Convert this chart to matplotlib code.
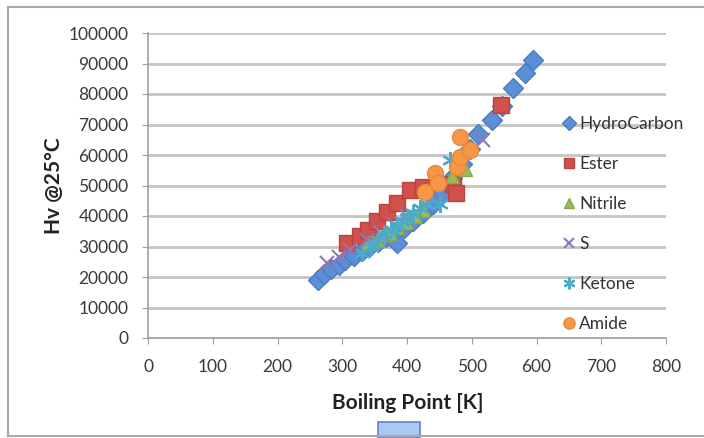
import matplotlib.pyplot as plt
from matplotlib.patches import Rectangle
from matplotlib.lines import Line2D

# 데이터
hc_bp = [263, 272, 282, 295, 305, 318, 330, 342, 355, 368, 385, 395, 410, 425,
         440, 455, 470, 485, 497, 510, 531, 547, 564, 582, 594]
hc_hv = [19000, 21000, 22500, 24000, 25500, 27000, 28500, 30000, 31500, 33000,
         31300, 36000, 38500, 41000, 44000, 48000, 52500, 57000, 62000, 67000,
         71500, 76000, 82000, 87000, 91200]

ester_bp = [307, 327, 340, 354, 369, 384, 405, 425, 471, 476, 545]
ester_hv = [31300, 33300, 35500, 38200, 41400, 44300, 48600, 49600, 50500, 47500, 76400]

nitrile_bp = [340, 354, 368, 374, 385, 398, 412, 425, 470, 490]
nitrile_hv = [31000, 32200, 34000, 34500, 36500, 38000, 40000, 42000, 53000, 55500]

s_bp = [276, 295, 312, 338, 360, 380, 400, 517]
s_hv = [24700, 26500, 29000, 32200, 34500, 37000, 40000, 64900]

ketone_bp = [330, 345, 355, 365, 375, 385, 392, 400, 410, 420, 430, 451, 466]
ketone_hv = [28000, 30000, 32000, 34000, 35500, 37000, 38500, 39500, 41000, 42500,
             44000, 44000, 58400]

amide_bp = [428, 443, 448, 477, 482, 482, 497]
amide_hv = [47900, 54100, 50800, 56100, 59400, 65900, 61700]

plt.rcParams['font.family'] = ['Lato', 'DejaVu Sans']

fig = plt.figure(figsize=(7.04, 4.38), dpi=100)
ax = fig.add_axes([148/704, 1-338/438, 518/704, 305/438])

ax.plot(hc_bp, hc_hv, 'D', color='#5b8fd6', mec='#4a7cc4', ms=10, ls='none', label='HydroCarbon', zorder=3)
ax.plot(ester_bp, ester_hv, 's', color='#d0504c', mec='#b84440', ms=11, ls='none', label='Ester', zorder=3)
ax.plot(nitrile_bp, nitrile_hv, '^', color='#9bbb59', mec='#88a84c', ms=10, ls='none', label='Nitrile', zorder=3)
ax.plot(s_bp, s_hv, 'x', color='#8f78b8', ms=10, mew=1.5, ls='none', label='S', zorder=3)
ax.plot(ketone_bp, ketone_hv, marker=(6, 2, 0), color='#4bacc6', ms=12, mew=1.6, ls='none', label='Ketone', zorder=3)
ax.plot(amide_bp, amide_hv, 'o', color='#f79646', mec='#e8883a', ms=11.5, ls='none', label='Amide', zorder=4)

ax.set_xlim(0, 800)
ax.set_ylim(0, 100000)
ax.set_xticks(range(0, 801, 100))
ax.set_yticks(range(0, 100001, 10000))
ax.grid(axis='y', color='#c4c4c4', lw=2)
ax.set_axisbelow(True)
for s in ['top', 'right']:
    ax.spines[s].set_visible(False)
for s in ['left', 'bottom']:
    ax.spines[s].set_color('#a0a0a0')
    ax.spines[s].set_linewidth(1.2)
ax.tick_params(colors='#a0a0a0', labelcolor='#3a3a3a', labelsize=12.5, length=4, direction='out')
ax.tick_params(axis='x', pad=11)
ax.tick_params(axis='y', pad=10)

ax.set_xlabel('Boiling Point [K]', fontsize=15, fontweight='bold', color='#222222')
ax.set_ylabel('Hv @25°C', fontsize=15, fontweight='bold', color='#222222')
ax.xaxis.set_label_coords(0.502, -55/305)
ax.yaxis.set_label_coords(-84/518, 0.5)

ax.legend(loc='center left', bbox_to_anchor=(546/704, 1-224/438), bbox_transform=fig.transFigure,
          frameon=False, fontsize=12.5, numpoints=1, handlelength=0.8, handletextpad=0.2,
          labelspacing=1.39, markerscale=0.7, labelcolor='#333333')

# 바깥 테두리, 잘린 제목, 선택 핸들
fig.add_artist(Line2D([8/704, 8/704], [1-7/438, 1-436/438], color='#a8a8a8', lw=1.5))
fig.add_artist(Line2D([8/704, 1], [1-7/438, 1-7/438], color='#a8a8a8', lw=1.5))
fig.add_artist(Line2D([8/704, 1], [1-436/438, 1-436/438], color='#a8a8a8', lw=1.5))
fig.text(230/704, 1+11/438, 'g', fontsize=30, fontweight='bold', ha='center', va='baseline')
fig.add_artist(Rectangle((378/704, 0), 42/704, 16/438, transform=fig.transFigure,
                         facecolor='#a9c8f2', edgecolor='#5a88c8', lw=1.2))

plt.savefig('out.png', dpi=100)
